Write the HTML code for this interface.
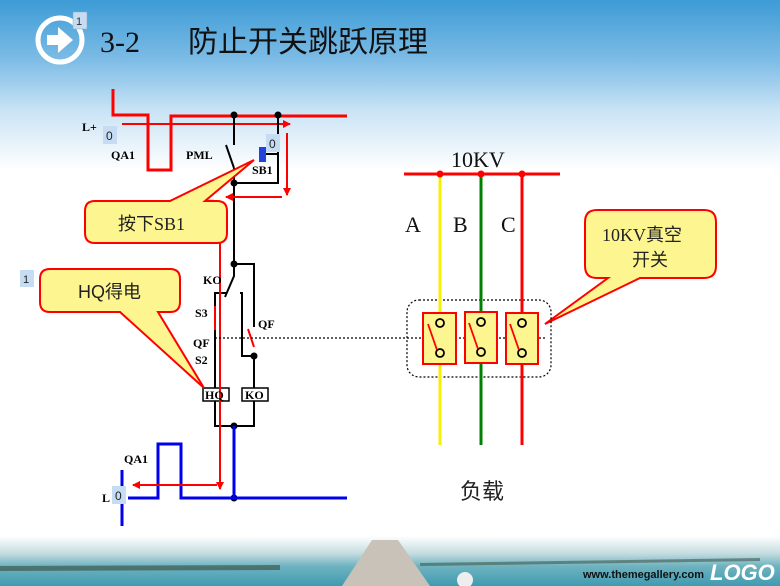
<!DOCTYPE html>
<html><head><meta charset="utf-8"><style>
html,body{margin:0;padding:0}
body{width:780px;height:586px;overflow:hidden;position:relative;font-family:"Liberation Sans","Noto Sans CJK SC",sans-serif;
background:linear-gradient(180deg,#3d9bd6 0px,#7dbce6 60px,#c9e3f5 110px,#fff 170px,#fff 100%)}
svg{position:absolute;left:0;top:0}
</style></head><body>
<svg width="780" height="586" viewBox="0 0 780 586" xmlns="http://www.w3.org/2000/svg">
<defs>
<linearGradient id="sea" x1="0" y1="0" x2="0" y2="1">
<stop offset="0" stop-color="#fff"/><stop offset="0.35" stop-color="#c4dce0"/><stop offset="0.6" stop-color="#6fb3c0"/><stop offset="1" stop-color="#3f9bb0"/></linearGradient>
<marker id="ar" markerWidth="8" markerHeight="8" refX="7" refY="4" orient="auto" markerUnits="userSpaceOnUse"><path d="M0,0 L8,4 L0,8 z" fill="#f00"/></marker>
</defs>
<rect x="0" y="536" width="780" height="50" fill="url(#sea)"/>
<path d="M0,566 L280,565 L280,570 L0,571z" fill="#3d5a4e" opacity="0.7"/>
<path d="M420,563 L760,558 L760,561 L420,566z" fill="#3d5a4e" opacity="0.6"/>
<path d="M372,540 L398,540 L430,586 L342,586z" fill="#c8c2b8"/>
<circle cx="465" cy="580" r="8" fill="#eee"/>
<text x="583" y="578" font-size="11" font-weight="bold" fill="#111">www.themegallery.com</text>
<text x="710" y="580" font-size="22" font-weight="bold" font-style="italic" fill="#fff">LOGO</text>

<circle cx="60" cy="40" r="22" fill="none" stroke="#fff" stroke-width="5"/>
<path d="M47,35 L58,35 L58,27 L73,40 L58,53 L58,45 L47,45z" fill="#fff"/>
<rect x="73" y="12" width="14" height="17" fill="#c5dcf3" stroke="#8ab" stroke-width="0.5"/>
<text x="76" y="25" font-size="11" fill="#333">1</text>
<text x="100" y="52" font-family="Liberation Serif,serif" font-size="30" fill="#111">3-2</text>
<text x="188" y="52" font-size="30" fill="#111">防止开关跳跃原理</text>

<g stroke-linecap="butt" fill="none">
<path d="M113,89 V115 H148 V170 H171 V116 H347" stroke="#f00" stroke-width="3"/>
<line x1="122" y1="124" x2="290" y2="124" stroke="#f00" stroke-width="2" marker-end="url(#ar)"/>
<g stroke="#000" stroke-width="2">
<path d="M234,115 V145"/><path d="M226,145 L234,168"/>
<path d="M234,168 V276 L225,297"/>
<path d="M278,115 V183 H234"/>
<path d="M266,154 H278"/>
<path d="M234,264 H254 V327"/>
<path d="M227,293 H215 V306"/>
<path d="M240,293 H242 V356 H254 V388"/>
<path d="M215,330 V388"/>
<path d="M215,401 V426 H254 V401"/>
</g>
<path d="M215,306 V330" stroke="#f00" stroke-width="2"/>
<path d="M248,329 L254,347" stroke="#f00" stroke-width="2"/>
<rect x="259" y="147" width="7" height="15" fill="#2244dd"/>
<circle cx="234" cy="115" r="3.5" fill="#000"/><circle cx="278" cy="115" r="3.5" fill="#000"/>
<circle cx="234" cy="183" r="3.5" fill="#000"/><circle cx="234" cy="264" r="3.5" fill="#000"/>
<circle cx="254" cy="356" r="3.5" fill="#000"/><circle cx="234" cy="426" r="3.5" fill="#000"/>
<circle cx="234" cy="498" r="3.5" fill="#000"/>
<rect x="203" y="388" width="26" height="13" fill="#fff" stroke="#000" stroke-width="1.5"/>
<rect x="242" y="388" width="26" height="13" fill="#fff" stroke="#000" stroke-width="1.5"/>
<line x1="287" y1="133" x2="287" y2="195" stroke="#f00" stroke-width="2" marker-end="url(#ar)"/>
<line x1="282" y1="197" x2="226" y2="197" stroke="#f00" stroke-width="2" marker-end="url(#ar)"/>
<line x1="220" y1="240" x2="220" y2="489" stroke="#f00" stroke-width="2" marker-end="url(#ar)"/>
<path d="M234,426 V498 H347 M234,498 H181 V444 H158 V498 H128" stroke="#0000ee" stroke-width="3"/>
<path d="M122,470 V526" stroke="#0000ee" stroke-width="3"/>
<line x1="217" y1="485" x2="133" y2="485" stroke="#f00" stroke-width="2" marker-end="url(#ar)"/>
<path d="M215,338 H545" stroke="#000" stroke-width="1.2" stroke-dasharray="2,2"/>
</g>
<g font-family="Liberation Serif,serif" font-weight="bold" font-size="12" fill="#000">
<text x="82" y="131">L+</text><text x="111" y="159">QA1</text><text x="186" y="159">PML</text><text x="252" y="174">SB1</text>
<text x="203" y="284">KO</text><text x="195" y="317">S3</text><text x="193" y="347">QF</text><text x="195" y="364">S2</text>
<text x="258" y="328">QF</text><text x="205" y="399">HQ</text><text x="245" y="399">KO</text>
<text x="124" y="463">QA1</text><text x="102" y="502">L</text>
</g>
<g font-size="12" fill="#222">
<rect x="103" y="126" width="14" height="18" fill="#c5dcf3"/><text x="106" y="140">0</text>
<rect x="266" y="134" width="14" height="18" fill="#c5dcf3"/><text x="269" y="148">0</text>
<rect x="200" y="199" width="14" height="18" fill="#c5dcf3"/><text x="203" y="213">0</text>
<rect x="112" y="486" width="14" height="18" fill="#c5dcf3"/><text x="115" y="500">0</text>
<rect x="20" y="270" width="14" height="17" fill="#c5dcf3"/><text x="23" y="283" font-size="11">1</text>
</g>
<g fill="#fdf58f" stroke="#f00" stroke-width="2">
<path d="M95,201 H170 L254,160 L205,201 H217 Q227,201 227,211 V233 Q227,243 217,243 H95 Q85,243 85,233 V211 Q85,201 95,201z"/>
<path d="M50,269 H170 Q180,269 180,279 V302 Q180,312 170,312 H158 L204,388 L120,312 H50 Q40,312 40,302 V279 Q40,269 50,269z"/>
<path d="M597,210 H704 Q716,210 716,222 V266 Q716,278 704,278 H640 L545,324 L608,278 H597 Q585,278 585,266 V222 Q585,210 597,210z"/>
</g>
<g font-size="18" fill="#222">
<text x="118" y="230" font-family="'Noto Sans CJK SC',sans-serif">按下<tspan font-family="Liberation Serif,serif">SB1</tspan></text>
<text x="78" y="298">HQ得电</text>
<text x="602" y="241" font-family="Liberation Serif,'Noto Sans CJK SC',serif">10KV真空</text>
<text x="632" y="266">开关</text>
</g>
<text x="451" y="167" font-family="Liberation Serif,serif" font-size="22" fill="#111">10KV</text>
<g font-family="Liberation Serif,serif" font-size="22" fill="#111"><text x="405" y="232">A</text><text x="453" y="232">B</text><text x="501" y="232">C</text></g>
<line x1="404" y1="174" x2="560" y2="174" stroke="#f00" stroke-width="3"/>
<rect x="407" y="300" width="144" height="77" rx="12" fill="none" stroke="#000" stroke-width="1.2" stroke-dasharray="2,2"/>
<line x1="440" y1="174" x2="440" y2="445" stroke="#f5f000" stroke-width="3"/>
<line x1="481" y1="174" x2="481" y2="445" stroke="#008000" stroke-width="3"/>
<line x1="522" y1="174" x2="522" y2="445" stroke="#f00" stroke-width="3"/>
<circle cx="440" cy="174" r="3.5" fill="#f00"/><circle cx="481" cy="174" r="3.5" fill="#f00"/><circle cx="522" cy="174" r="3.5" fill="#f00"/>
<g stroke="#f00" stroke-width="2" fill="#fdf58f">
<rect x="423" y="313" width="33" height="51"/><rect x="465" y="312" width="32" height="51"/><rect x="506" y="313" width="32" height="51"/>
</g>
<g stroke="#000" stroke-width="1.8" fill="#fdf58f">
<circle cx="440" cy="323" r="4"/><circle cx="440" cy="353" r="4"/>
<circle cx="481" cy="322" r="4"/><circle cx="481" cy="352" r="4"/>
<circle cx="522" cy="323" r="4"/><circle cx="522" cy="353" r="4"/>
</g>
<g stroke="#f00" stroke-width="1.8">
<line x1="428" y1="324" x2="437" y2="350"/><line x1="469" y1="323" x2="478" y2="349"/><line x1="510" y1="324" x2="519" y2="350"/>
</g>
<text x="460" y="499" font-size="22" fill="#222">负载</text>
</svg>
</body></html>
